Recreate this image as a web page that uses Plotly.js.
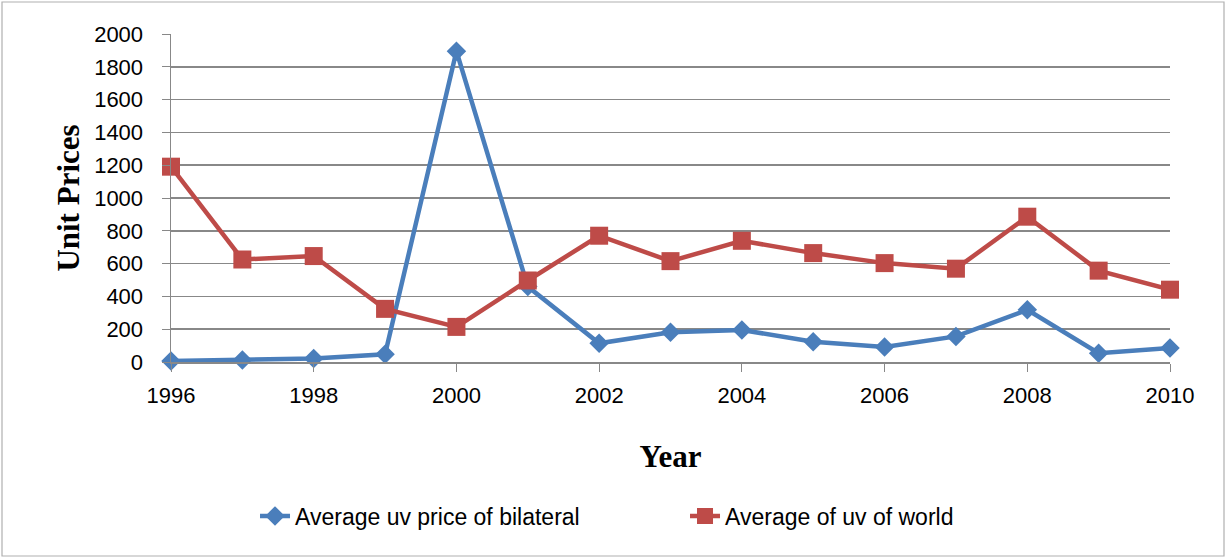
<!DOCTYPE html>
<html>
<head>
<meta charset="utf-8">
<script src="https://cdn.plot.ly/plotly-3.0.1.min.js"></script>
<style>html,body{margin:0;padding:0;background:#fff;} #chart{width:1226px;height:559px;}</style>
</head>
<body>
<div id="chart"></div>
<script>
const years = [1996,1997,1998,1999,2000,2001,2002,2003,2004,2005,2006,2007,2008,2009,2010];
const bilateral = [6,12,22,47,1895,460,114,181,195,124,92,156,318,54,86];
const world = [1191,625,646,324,214,497,770,615,739,664,603,569,886,557,441];
const seriesNames = ["Average uv price of bilateral","Average of uv of world"];

const traces = [
  {x: years, y: bilateral, name: seriesNames[0], mode: 'lines+markers', type: 'scatter', cliponaxis: false,
   line: {color: '#4A7EBB', width: 4.5}, marker: {symbol: 'diamond', size: 15, color: '#4A7EBB'}},
  {x: years, y: world, name: seriesNames[1], mode: 'lines+markers', type: 'scatter', cliponaxis: false,
   line: {color: '#BE4B48', width: 4.5}, marker: {symbol: 'square', size: 18, color: '#BE4B48'}}
];

const tickFont = {family: 'Liberation Sans, Arial, sans-serif', size: 22, color: '#000'};
const titleFont = {family: 'Liberation Serif, Times New Roman, serif', size: 31, color: '#000', weight: 'bold'};
const layout = {
  width: 1226, height: 559,
  margin: {l: 171, r: 56, t: 34, b: 197},
  paper_bgcolor: '#fff', plot_bgcolor: '#fff',
  showlegend: true,
  legend: {orientation: 'h', xref: 'container', yref: 'container', x: 0.208, y: 0.077,
           xanchor: 'left', yanchor: 'middle', font: {family: 'Liberation Sans, Arial, sans-serif', size: 23, color: '#000'},
           itemwidth: 30, entrywidth: 385, entrywidthmode: 'pixels'},
  xaxis: {range: [1996, 2010], tickmode: 'linear', tick0: 1996, dtick: 2,
          showgrid: false, zeroline: false, showline: true, linecolor: '#888', linewidth: 1.5,
          ticks: 'outside', ticklen: 8, tickcolor: '#888', tickfont: tickFont, ticklabelstandoff: 5,
          title: {text: 'Year', font: titleFont, standoff: 38}},
  yaxis: {range: [0, 2000], tickmode: 'linear', tick0: 0, dtick: 200,
          showgrid: true, gridcolor: '#888', gridwidth: 1.5, zeroline: false,
          showline: true, linecolor: '#888', linewidth: 1.5,
          ticks: 'outside', ticklen: 8, tickcolor: '#888', tickfont: tickFont, ticklabelstandoff: 14,
          title: {text: 'Unit Prices', font: titleFont, standoff: 5}},
  shapes: [{type: 'rect', xref: 'paper', yref: 'paper',
            x0: (2-171)/999, x1: (1224-171)/999, y0: (362-556)/328, y1: (362-2)/328,
            line: {color: '#b0b0b0', width: 1.2}, fillcolor: 'rgba(0,0,0,0)', layer: 'below'}]
};
Plotly.newPlot('chart', traces, layout, {displayModeBar: false, staticPlot: true});
</script>
</body>
</html>
